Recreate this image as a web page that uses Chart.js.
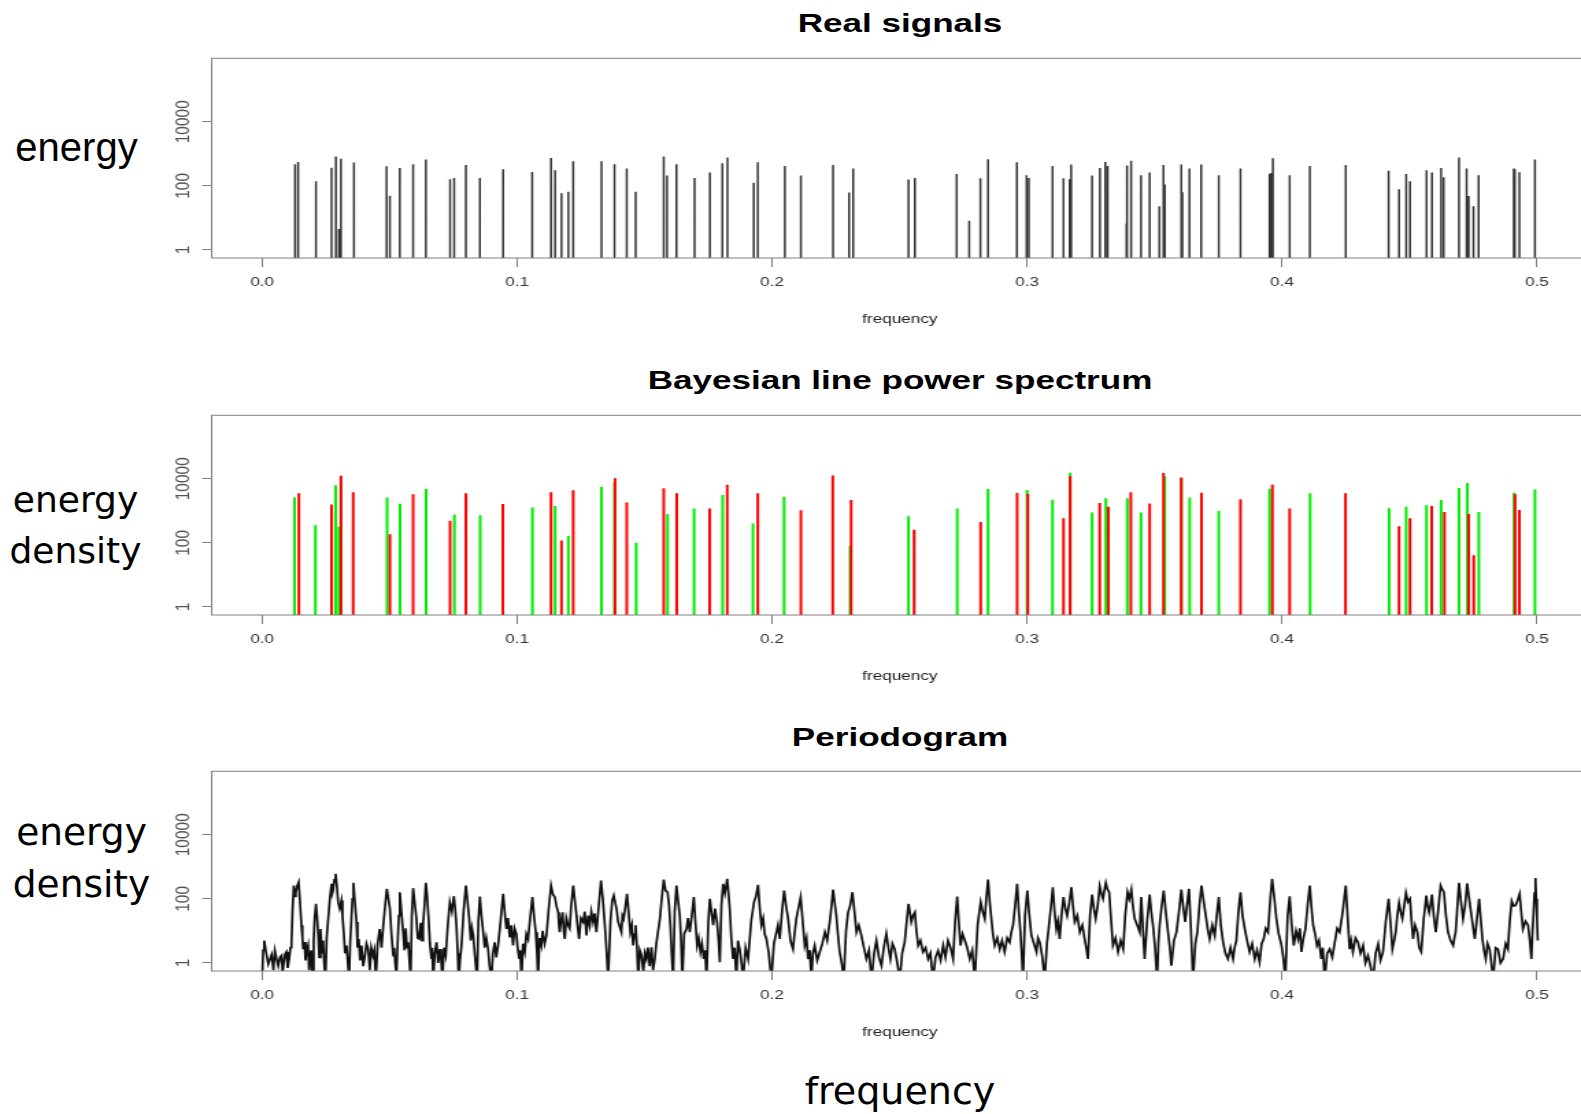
<!DOCTYPE html>
<html>
<head>
<meta charset="utf-8">
<title>Real signals / Bayesian line power spectrum / Periodogram</title>
<script src="https://cdn.jsdelivr.net/npm/chart.js@4.4.0/dist/chart.umd.min.js"></script>
<style>
  html, body { margin: 0; padding: 0; background: #fff; }
  body { width: 1581px; height: 1114px; overflow: hidden; position: relative; }
  canvas { position: absolute; left: 0; transform: scaleX(1.37); transform-origin: 0 0; }
  .title { position: absolute; left: 600px; width: 600px; text-align: center; font-family: 'Liberation Sans', Arial, sans-serif;
           font-weight: bold; font-size: 25.6px; line-height: 26px; color: #000; transform: scaleX(1.37); white-space: nowrap; }
  .lab { position: absolute; text-align: center; color: #000; white-space: nowrap; }
</style>
</head>
<body>

<div class="title" style="top:10px">Real signals</div>
<div class="title" style="top:367px">Bayesian line power spectrum</div>
<div class="title" style="top:724px">Periodogram</div>

<div class="lab" style="font-family:'Liberation Sans';font-size:40px;line-height:40px;left:0;width:153px;top:127px">energy</div>
<div class="lab" style="font-family:'DejaVu Sans';font-size:36px;line-height:51px;left:0;width:151px;top:474px">energy<br>density</div>
<div class="lab" style="font-family:'DejaVu Sans';font-size:37.5px;line-height:52px;left:0;width:163px;top:806px">energy<br>density</div>
<div class="lab" style="font-family:'DejaVu Sans';font-size:38px;line-height:44px;left:700px;width:400px;top:1069px">frequency</div>

<canvas id="realChart" width="1170" height="356" style="top:0px"></canvas>
<canvas id="bayesChart" width="1170" height="356" style="top:356.7px"></canvas>
<canvas id="periodChart" width="1170" height="356" style="top:713.4px"></canvas>

<script>
// Axis ticks
const xTicks = [0.0, 0.1, 0.2, 0.3, 0.4, 0.5];
const yTicks = [1, 100, 10000];

// Real signals: frequency and energy of each line
const signalFreq = [0.0129, 0.0141, 0.0211, 0.0272, 0.0289, 0.0301, 0.0309, 0.0360, 0.0488, 0.0501,
  0.0540, 0.0592, 0.0642, 0.0737, 0.0753, 0.0799, 0.0854, 0.0945, 0.1059, 0.1133,
  0.1149, 0.1174, 0.1201, 0.1220, 0.1331, 0.1382, 0.1430, 0.1465, 0.1575, 0.1588,
  0.1625, 0.1696, 0.1756, 0.1805, 0.1825, 0.1928, 0.1944, 0.2050, 0.2113, 0.2239,
  0.2302, 0.2318, 0.2535, 0.2560, 0.2724, 0.2773, 0.2817, 0.2847, 0.2960, 0.2998,
  0.3007, 0.3100, 0.3143, 0.3167, 0.3173, 0.3255, 0.3286, 0.3307, 0.3316, 0.3390,
  0.3392, 0.3408, 0.3447, 0.3481, 0.3519, 0.3535, 0.3540, 0.3605, 0.3609, 0.3637,
  0.3683, 0.3752, 0.3837, 0.3951, 0.3958, 0.3964, 0.4030, 0.4109, 0.4250, 0.4418,
  0.4459, 0.4487, 0.4502, 0.4567, 0.4588, 0.4624, 0.4634, 0.4694, 0.4724, 0.4732,
  0.4751, 0.4771, 0.4909, 0.4913, 0.4931, 0.4992];
const signalEnergy = [470, 550, 138, 370, 830, 4.5, 700, 530, 410, 49,
  360, 470, 660, 160, 176, 445, 176, 330, 270, 740,
  305, 59, 66, 590, 590, 470, 350, 65, 830, 210,
  470, 176, 260, 510, 760, 126, 540, 415, 210, 445,
  62, 345, 157, 176, 234, 8.1, 172, 670, 540, 214,
  176, 415, 172, 160, 460, 210, 360, 550, 415, 6.7,
  430, 610, 214, 260, 23, 445, 110, 460, 63, 350,
  460, 214, 345, 240, 250, 720, 214, 415, 445, 297,
  78, 234, 138, 305, 260, 360, 185, 760, 350, 48,
  23, 214, 345, 330, 265, 660];

// Bayesian line power spectrum, red lines
const bayesRedFreq = [0.0144, 0.0272, 0.0309, 0.0357, 0.0501, 0.0592, 0.0737, 0.0799, 0.0944, 0.1133,
  0.1174, 0.1220, 0.1384, 0.1430, 0.1575, 0.1626, 0.1755, 0.1824, 0.1944, 0.2113,
  0.2238, 0.2310, 0.2557, 0.2818, 0.2961, 0.3003, 0.3143, 0.3169, 0.3285, 0.3319,
  0.3407, 0.3481, 0.3535, 0.3605, 0.3684, 0.3837, 0.3962, 0.4030, 0.4249, 0.4459,
  0.4502, 0.4587, 0.4637, 0.4732, 0.4752, 0.4914, 0.4931];
const bayesRedEnergy = [3500, 1580, 12300, 3750, 186, 3300, 490, 3500, 1620, 3800,
  118, 4400, 10300, 1820, 5000, 3500, 1180, 6500, 3500, 1030,
  12700, 2150, 255, 445, 3560, 3400, 590, 12000, 1740, 1330,
  3750, 1700, 15100, 11000, 3650, 2270, 6500, 1180, 3500, 330,
  590, 1400, 910, 790, 41, 3300, 1050];

// Bayesian line power spectrum, green lines
const bayesGreenFreq = [0.0127, 0.0209, 0.0288, 0.0301, 0.0309, 0.0490, 0.0541, 0.0643, 0.0754, 0.0855,
  0.1060, 0.1149, 0.1201, 0.1331, 0.1382, 0.1467, 0.1590, 0.1694, 0.1806, 0.1925,
  0.2047, 0.2306, 0.2535, 0.2726, 0.2847, 0.3000, 0.3100, 0.3169, 0.3255, 0.3309,
  0.3393, 0.3447, 0.3540, 0.3605, 0.3638, 0.3752, 0.3951, 0.4110, 0.4420, 0.4487,
  0.4567, 0.4624, 0.4694, 0.4727, 0.4772, 0.4910, 0.4992];
const bayesGreenEnergy = [2600, 355, 6300, 316, 11000, 2600, 1660, 4800, 770, 720,
  1260, 1400, 166, 5600, 7500, 100, 790, 1180, 3100, 400,
  2750, 80, 670, 1180, 4800, 4450, 2200, 15400, 890, 2450,
  2450, 890, 12000, 10500, 2600, 980, 4900, 3500, 1210, 1330,
  1500, 2150, 5100, 7400, 910, 3650, 4650];

// Periodogram as [frequency, energy density]
// (dips below 1 run off the bottom of the plot and are clipped there)
const periodogramPoints = [
  [0.0000, 0.3], [0.0004, 2.5], [0.0008, 5.0], [0.0016, 2.0], [0.0024, 0.93], [0.0037, 1.8], [0.0044, 0.6], [0.0050, 2.4],
  [0.0056, 1.4], [0.0063, 0.82], [0.0070, 1.5], [0.0076, 1.7], [0.0080, 0.5], [0.0085, 1.05], [0.0090, 1.9], [0.0095, 2.2],
  [0.0100, 0.7], [0.0106, 1.33], [0.0111, 3.0], [0.0115, 4.4], [0.0119, 40], [0.0124, 260], [0.0128, 120], [0.0132, 161],
  [0.0137, 250], [0.0143, 331], [0.0148, 90], [0.0154, 15], [0.0158, 6], [0.0161, 2.7], [0.0166, 4.5], [0.0170, 1.2],
  [0.0174, 2.2], [0.0180, 3.5], [0.0184, 0.6], [0.0187, 1.33], [0.0192, 2.5], [0.0197, 0.3], [0.0202, 5], [0.0206, 25],
  [0.0211, 70], [0.0215, 30], [0.0220, 7.2], [0.0224, 1.5], [0.0229, 11.5], [0.0234, 2.0], [0.0239, 5.0], [0.0243, 1.0],
  [0.0248, 0.3], [0.0253, 6], [0.0259, 24], [0.0265, 90], [0.0272, 295], [0.0275, 150], [0.0278, 182], [0.0283, 400],
  [0.0288, 603], [0.0293, 250], [0.0298, 79], [0.0304, 50], [0.0311, 89], [0.0315, 30], [0.0320, 9.1], [0.0325, 2.0],
  [0.0331, 3.5], [0.0336, 1.0], [0.0341, 0.3], [0.0345, 4], [0.0350, 24], [0.0354, 100], [0.0358, 316], [0.0363, 90],
  [0.0370, 19], [0.0374, 3], [0.0379, 5.6], [0.0384, 1.2], [0.0390, 3.5], [0.0396, 0.8], [0.0403, 1.7], [0.0409, 4.0],
  [0.0416, 2.7], [0.0422, 0.6], [0.0428, 3.0], [0.0435, 1.7], [0.0440, 2.5], [0.0446, 0.3], [0.0453, 4], [0.0461, 11.5],
  [0.0468, 3.0], [0.0475, 15], [0.0482, 60], [0.0489, 205], [0.0495, 100], [0.0501, 49], [0.0507, 8], [0.0514, 1.7],
  [0.0518, 3.0], [0.0522, 0.93], [0.0527, 0.4], [0.0531, 3.5], [0.0536, 30], [0.0540, 161], [0.0546, 40], [0.0553, 9.1],
  [0.0558, 2.5], [0.0563, 12], [0.0568, 3.0], [0.0573, 4.4], [0.0578, 1.0], [0.0582, 0.3], [0.0587, 30], [0.0592, 215],
  [0.0598, 80], [0.0605, 24], [0.0610, 6], [0.0616, 5.6], [0.0622, 18], [0.0627, 5], [0.0631, 15], [0.0637, 70],
  [0.0642, 316], [0.0647, 120], [0.0652, 30], [0.0658, 4], [0.0664, 1.33], [0.0667, 3], [0.0671, 0.3], [0.0677, 2.0],
  [0.0684, 4.4], [0.0690, 1.0], [0.0697, 2.7], [0.0702, 1.2], [0.0707, 0.3], [0.0713, 3.0], [0.0720, 1.7], [0.0728, 15],
  [0.0736, 79], [0.0744, 40], [0.0752, 121], [0.0757, 50], [0.0762, 15], [0.0767, 2], [0.0771, 0.3], [0.0777, 1.5],
  [0.0782, 3.5], [0.0790, 40], [0.0799, 260], [0.0805, 90], [0.0812, 24], [0.0818, 5], [0.0823, 12], [0.0828, 7.2],
  [0.0835, 1.5], [0.0843, 0.3], [0.0848, 20], [0.0854, 118], [0.0860, 30], [0.0867, 9.1], [0.0873, 3], [0.0879, 6],
  [0.0886, 2.7], [0.0892, 0.8], [0.0899, 0.3], [0.0905, 2.0], [0.0912, 4.4], [0.0918, 1.5], [0.0926, 3.9], [0.0935, 20],
  [0.0945, 143], [0.0951, 40], [0.0958, 11.5], [0.0964, 25], [0.0971, 6.3], [0.0977, 15], [0.0984, 3.5], [0.0990, 12],
  [0.0997, 8.1], [0.1002, 3], [0.1008, 1.33], [0.1012, 2.5], [0.1017, 0.3], [0.1023, 4], [0.1030, 2.2], [0.1036, 8],
  [0.1043, 5.6], [0.1051, 25], [0.1060, 113], [0.1066, 30], [0.1073, 9.1], [0.1078, 2], [0.1082, 0.3], [0.1088, 6],
  [0.1095, 3.5], [0.1100, 10], [0.1108, 4], [0.1115, 7.2], [0.1124, 50], [0.1133, 260], [0.1140, 140], [0.1148, 113],
  [0.1154, 60], [0.1161, 38], [0.1164, 15], [0.1167, 9.1], [0.1172, 20], [0.1178, 38], [0.1183, 10], [0.1187, 5.6],
  [0.1193, 25], [0.1200, 15], [0.1206, 12], [0.1212, 60], [0.1220, 260], [0.1227, 80], [0.1233, 30], [0.1238, 12],
  [0.1243, 5.6], [0.1250, 25], [0.1259, 19], [0.1265, 40], [0.1272, 7.2], [0.1278, 30], [0.1285, 15], [0.1291, 40],
  [0.1298, 19], [0.1304, 35], [0.1311, 9.1], [0.1320, 60], [0.1329, 375], [0.1336, 100], [0.1344, 15], [0.1350, 3],
  [0.1357, 0.3], [0.1366, 20], [0.1373, 90], [0.1379, 127], [0.1384, 80], [0.1390, 49], [0.1396, 20], [0.1409, 9.1],
  [0.1413, 30], [0.1418, 24], [0.1425, 60], [0.1431, 143], [0.1437, 40], [0.1444, 9.1], [0.1450, 15], [0.1455, 3.5],
  [0.1460, 8], [0.1465, 15], [0.1470, 3], [0.1475, 0.3], [0.1481, 2.5], [0.1488, 1.7], [0.1495, 0.5], [0.1501, 2.0],
  [0.1507, 1.33], [0.1513, 3.0], [0.1520, 0.8], [0.1527, 3.1], [0.1533, 0.6], [0.1540, 1.33], [0.1546, 4], [0.1553, 10],
  [0.1560, 24], [0.1567, 100], [0.1575, 401], [0.1582, 180], [0.1590, 161], [0.1596, 60], [0.1601, 15], [0.1606, 2],
  [0.1612, 0.3], [0.1618, 40], [0.1625, 260], [0.1631, 90], [0.1638, 30], [0.1643, 5], [0.1648, 0.3], [0.1655, 8],
  [0.1664, 11.5], [0.1670, 25], [0.1677, 9.1], [0.1685, 30], [0.1693, 113], [0.1699, 20], [0.1706, 3.5], [0.1712, 6],
  [0.1719, 2.2], [0.1725, 4], [0.1732, 1.33], [0.1737, 2.5], [0.1743, 0.3], [0.1750, 20], [0.1756, 100], [0.1762, 40],
  [0.1769, 15], [0.1776, 50], [0.1784, 19], [0.1790, 5], [0.1795, 1.05], [0.1801, 60], [0.1808, 295], [0.1815, 150],
  [0.1824, 422], [0.1829, 150], [0.1834, 49], [0.1840, 6], [0.1847, 1.33], [0.1853, 3], [0.1860, 0.3], [0.1866, 5],
  [0.1873, 2.7], [0.1880, 1], [0.1886, 0.3], [0.1896, 3], [0.1906, 1.33], [0.1918, 20], [0.1929, 79], [0.1937, 120],
  [0.1945, 274], [0.1951, 60], [0.1958, 15], [0.1965, 25], [0.1971, 8], [0.1978, 5.6], [0.1987, 2], [0.1997, 0.3],
  [0.2007, 4], [0.2017, 9.1], [0.2023, 15], [0.2030, 5.6], [0.2039, 40], [0.2047, 182], [0.2055, 60], [0.2063, 24],
  [0.2072, 5], [0.2082, 2.7], [0.2088, 8], [0.2095, 24], [0.2103, 50], [0.2112, 113], [0.2120, 20], [0.2128, 3.5],
  [0.2135, 6], [0.2141, 1.33], [0.2148, 2.5], [0.2154, 0.3], [0.2160, 2], [0.2167, 3.5], [0.2177, 1.2], [0.2187, 2.2],
  [0.2197, 4], [0.2207, 9.1], [0.2216, 5], [0.2226, 19], [0.2232, 50], [0.2239, 195], [0.2245, 80], [0.2252, 30],
  [0.2258, 8], [0.2265, 2.2], [0.2273, 1], [0.2281, 0.3], [0.2290, 10], [0.2298, 38], [0.2306, 60], [0.2315, 161],
  [0.2323, 40], [0.2331, 9.1], [0.2340, 15], [0.2350, 7.2], [0.2360, 3], [0.2370, 1.33], [0.2380, 2.5], [0.2390, 0.3],
  [0.2400, 2], [0.2409, 5.0], [0.2419, 1.5], [0.2429, 0.82], [0.2438, 3], [0.2448, 8.1], [0.2456, 3], [0.2464, 1.33],
  [0.2472, 4], [0.2481, 2.7], [0.2491, 1], [0.2501, 0.3], [0.2510, 2], [0.2520, 4.4], [0.2528, 20], [0.2535, 70],
  [0.2540, 40], [0.2546, 19], [0.2553, 30], [0.2560, 38], [0.2566, 10], [0.2573, 3.5], [0.2582, 5], [0.2592, 2.2],
  [0.2602, 3], [0.2612, 1.33], [0.2621, 2], [0.2631, 0.3], [0.2641, 1.5], [0.2651, 2.4], [0.2661, 1.2], [0.2671, 3.5],
  [0.2680, 1.5], [0.2690, 5.0], [0.2700, 3], [0.2710, 1.33], [0.2718, 20], [0.2726, 118], [0.2732, 20], [0.2739, 3.5],
  [0.2747, 8], [0.2756, 5.0], [0.2765, 3], [0.2775, 1.33], [0.2785, 2.5], [0.2795, 0.3], [0.2806, 15], [0.2818, 79],
  [0.2826, 40], [0.2834, 24], [0.2840, 100], [0.2847, 401], [0.2853, 90], [0.2860, 24], [0.2866, 8], [0.2873, 3.5],
  [0.2883, 6], [0.2893, 2.7], [0.2902, 5], [0.2912, 2.2], [0.2922, 6], [0.2932, 4.4], [0.2938, 9], [0.2945, 15],
  [0.2953, 60], [0.2961, 295], [0.2967, 50], [0.2974, 9.1], [0.2979, 2], [0.2984, 0.3], [0.2992, 30], [0.3001, 182],
  [0.3009, 30], [0.3017, 7.2], [0.3027, 4], [0.3037, 2.2], [0.3043, 6], [0.3050, 4.4], [0.3060, 1.5], [0.3069, 0.3],
  [0.3078, 4], [0.3086, 15], [0.3094, 60], [0.3101, 231], [0.3108, 40], [0.3115, 11.5], [0.3121, 20], [0.3128, 5.6],
  [0.3135, 30], [0.3143, 113], [0.3150, 50], [0.3157, 30], [0.3165, 70], [0.3174, 231], [0.3180, 60], [0.3187, 19],
  [0.3197, 30], [0.3207, 9.1], [0.3217, 15], [0.3226, 5.6], [0.3232, 3], [0.3239, 1.33], [0.3247, 30], [0.3255, 136],
  [0.3262, 50], [0.3269, 24], [0.3277, 60], [0.3285, 248], [0.3291, 150], [0.3298, 100], [0.3303, 180], [0.3309, 316],
  [0.3315, 200], [0.3322, 161], [0.3330, 20], [0.3337, 3.5], [0.3347, 6], [0.3357, 2.2], [0.3367, 5], [0.3377, 2.7],
  [0.3385, 30], [0.3394, 161], [0.3401, 100], [0.3409, 195], [0.3415, 60], [0.3422, 24], [0.3432, 15], [0.3442, 9.1],
  [0.3445, 40], [0.3448, 113], [0.3455, 10], [0.3461, 1.33], [0.3471, 20], [0.3481, 136], [0.3487, 40], [0.3494, 15],
  [0.3502, 3], [0.3510, 0.3], [0.3515, 4], [0.3520, 15], [0.3528, 60], [0.3536, 182], [0.3544, 40], [0.3553, 9.1],
  [0.3560, 3], [0.3566, 0.82], [0.3576, 5], [0.3586, 9.1], [0.3596, 40], [0.3605, 195], [0.3612, 60], [0.3620, 19],
  [0.3627, 60], [0.3635, 205], [0.3643, 10], [0.3651, 0.3], [0.3660, 4], [0.3668, 9.1], [0.3676, 60], [0.3684, 260],
  [0.3692, 90], [0.3701, 30], [0.3708, 12], [0.3716, 5.6], [0.3726, 15], [0.3736, 7.2], [0.3744, 30], [0.3752, 113],
  [0.3760, 15], [0.3769, 4.4], [0.3778, 2], [0.3788, 1.33], [0.3798, 3], [0.3808, 1.33], [0.3814, 3], [0.3821, 5.0],
  [0.3829, 40], [0.3837, 161], [0.3845, 30], [0.3854, 11.5], [0.3863, 5], [0.3873, 2.2], [0.3883, 4], [0.3893, 1.33],
  [0.3902, 2.5], [0.3912, 1.05], [0.3920, 4], [0.3928, 5.6], [0.3936, 12], [0.3945, 9.1], [0.3953, 80], [0.3961, 422],
  [0.3969, 120], [0.3978, 24], [0.3987, 8], [0.3997, 3.9], [0.4005, 1.5], [0.4013, 0.3], [0.4022, 30], [0.4030, 121],
  [0.4038, 15], [0.4046, 3.5], [0.4055, 10], [0.4063, 5.6], [0.4070, 12], [0.4076, 2.2], [0.4084, 6], [0.4092, 11.5],
  [0.4100, 60], [0.4109, 260], [0.4115, 60], [0.4122, 15], [0.4130, 8], [0.4137, 3.5], [0.4145, 5], [0.4154, 1.33],
  [0.4160, 3], [0.4167, 0.3], [0.4177, 2], [0.4187, 2.7], [0.4197, 1.5], [0.4207, 4.4], [0.4216, 12], [0.4226, 9.1],
  [0.4238, 40], [0.4250, 260], [0.4257, 30], [0.4265, 2.7], [0.4271, 5], [0.4278, 2.2], [0.4288, 6], [0.4298, 4.4],
  [0.4308, 2], [0.4318, 3.5], [0.4327, 1], [0.4337, 1.7], [0.4347, 0.8], [0.4357, 0.3], [0.4367, 2], [0.4377, 3.9],
  [0.4386, 1.2], [0.4396, 2.2], [0.4407, 20], [0.4418, 100], [0.4425, 20], [0.4433, 2.7], [0.4440, 5], [0.4446, 9.1],
  [0.4452, 30], [0.4459, 75], [0.4465, 40], [0.4472, 24], [0.4479, 60], [0.4486, 154], [0.4494, 80], [0.4502, 100],
  [0.4508, 20], [0.4514, 5.6], [0.4522, 15], [0.4531, 9.1], [0.4538, 3], [0.4546, 2.2], [0.4556, 25], [0.4566, 127],
  [0.4571, 60], [0.4577, 38], [0.4583, 70], [0.4588, 136], [0.4595, 30], [0.4603, 9.1], [0.4612, 40], [0.4622, 260],
  [0.4628, 200], [0.4635, 161], [0.4643, 30], [0.4651, 9.1], [0.4661, 5], [0.4671, 3.5], [0.4676, 6], [0.4681, 9.1],
  [0.4688, 60], [0.4694, 316], [0.4702, 80], [0.4710, 24], [0.4718, 60], [0.4726, 302], [0.4734, 100], [0.4743, 30],
  [0.4750, 12], [0.4756, 5.6], [0.4765, 25], [0.4773, 100], [0.4780, 20], [0.4786, 5.6], [0.4792, 2.5], [0.4799, 1.33],
  [0.4806, 4], [0.4814, 2.7], [0.4821, 1], [0.4828, 0.3], [0.4838, 3], [0.4847, 2.7], [0.4857, 1], [0.4867, 1.33],
  [0.4877, 4], [0.4886, 2.7], [0.4893, 20], [0.4901, 85], [0.4908, 60], [0.4916, 62], [0.4924, 90], [0.4932, 143],
  [0.4938, 40], [0.4945, 11.5], [0.4955, 20], [0.4965, 15], [0.4972, 5], [0.4978, 1.33], [0.4982, 8], [0.4986, 30],
  [0.4990, 150], [0.4994, 443], [0.4997, 100], [0.5000, 24], [0.5003, 5.0]
];

// Axis ranges (R style, 4% extension of 0..0.5)
const X_MIN = -0.0198;
const X_MAX = 0.52;
const Y_MIN = 0.562;
const Y_MAX = 950000;

const TICK_FONT = { family: 'Liberation Sans', size: 12.5 };
const GREY = '#808080';

// Turn frequency/energy pairs into vertical lines (R type = "h")
function spikes(freqs, values) {
    const pts = [];
    freqs.forEach((f, i) => {
        pts.push({ x: f, y: Y_MIN }, { x: f, y: values[i] }, { x: f, y: null });
    });
    return pts;
}

// Box round the plot region, like R's box()
const framePlugin = {
    id: 'frame',
    afterDatasetsDraw(chart) {
        const { ctx, chartArea: a } = chart;
        ctx.save();
        ctx.strokeStyle = GREY;
        ctx.lineWidth = 1;
        ctx.strokeRect(a.left, a.top, a.right - a.left, a.bottom - a.top);
        ctx.restore();
    }
};

function makeChart(id, datasets) {
    return new Chart(document.getElementById(id), {
        type: 'line',
        data: { datasets: datasets },
        plugins: [framePlugin],
        options: {
            responsive: false,
            animation: false,
            events: [],
            layout: { padding: { top: 58.3, right: 10.9, left: 0, bottom: 0 } },
            elements: { point: { radius: 0 }, line: { tension: 0 } },
            plugins: { legend: { display: false }, tooltip: { enabled: false } },
            scales: {
                x: {
                    type: 'linear',
                    min: X_MIN,
                    max: X_MAX,
                    afterBuildTicks: s => { s.ticks = xTicks.map(v => ({ value: v })); },
                    afterFit: s => { s.height = 98; },
                    ticks: {
                        autoSkip: false, maxRotation: 0, minRotation: 0, padding: 8,
                        color: '#333', font: TICK_FONT,
                        callback: v => v.toFixed(1)
                    },
                    grid: { drawOnChartArea: false, tickLength: 9, color: GREY },
                    border: { display: false },
                    title: { display: true, text: 'frequency', color: '#222', font: TICK_FONT, padding: { top: 0, bottom: 29 } }
                },
                y: {
                    type: 'logarithmic',
                    min: Y_MIN,
                    max: Y_MAX,
                    afterBuildTicks: s => { s.ticks = yTicks.map(v => ({ value: v })); },
                    afterFit: s => { s.width = 154.5; },
                    ticks: {
                        autoSkip: false, minRotation: 90, maxRotation: 90, crossAlign: 'center', padding: -8,
                        color: '#555', font: { family: 'Liberation Sans', size: 15.5 },
                        callback: v => String(v)
                    },
                    grid: { drawOnChartArea: false, tickLength: 7, color: GREY },
                    border: { display: false }
                }
            }
        }
    });
}

// Panel 1: real signals
makeChart('realChart', [{
    data: spikes(signalFreq, signalEnergy),
    borderColor: '#333', borderWidth: 1.5, spanGaps: false
}]);

// Panel 2: red drawn over green (dataset 0 is painted last)
makeChart('bayesChart', [{
    data: spikes(bayesRedFreq, bayesRedEnergy),
    borderColor: '#ff0000', borderWidth: 2, spanGaps: false
}, {
    data: spikes(bayesGreenFreq, bayesGreenEnergy),
    borderColor: '#00ee00', borderWidth: 2, spanGaps: false
}]);

// Panel 3: periodogram
makeChart('periodChart', [{
    data: periodogramPoints.map(p => ({ x: p[0], y: p[1] })),
    borderColor: '#111', borderWidth: 1.7, spanGaps: false
}]);
</script>
</body>
</html>
